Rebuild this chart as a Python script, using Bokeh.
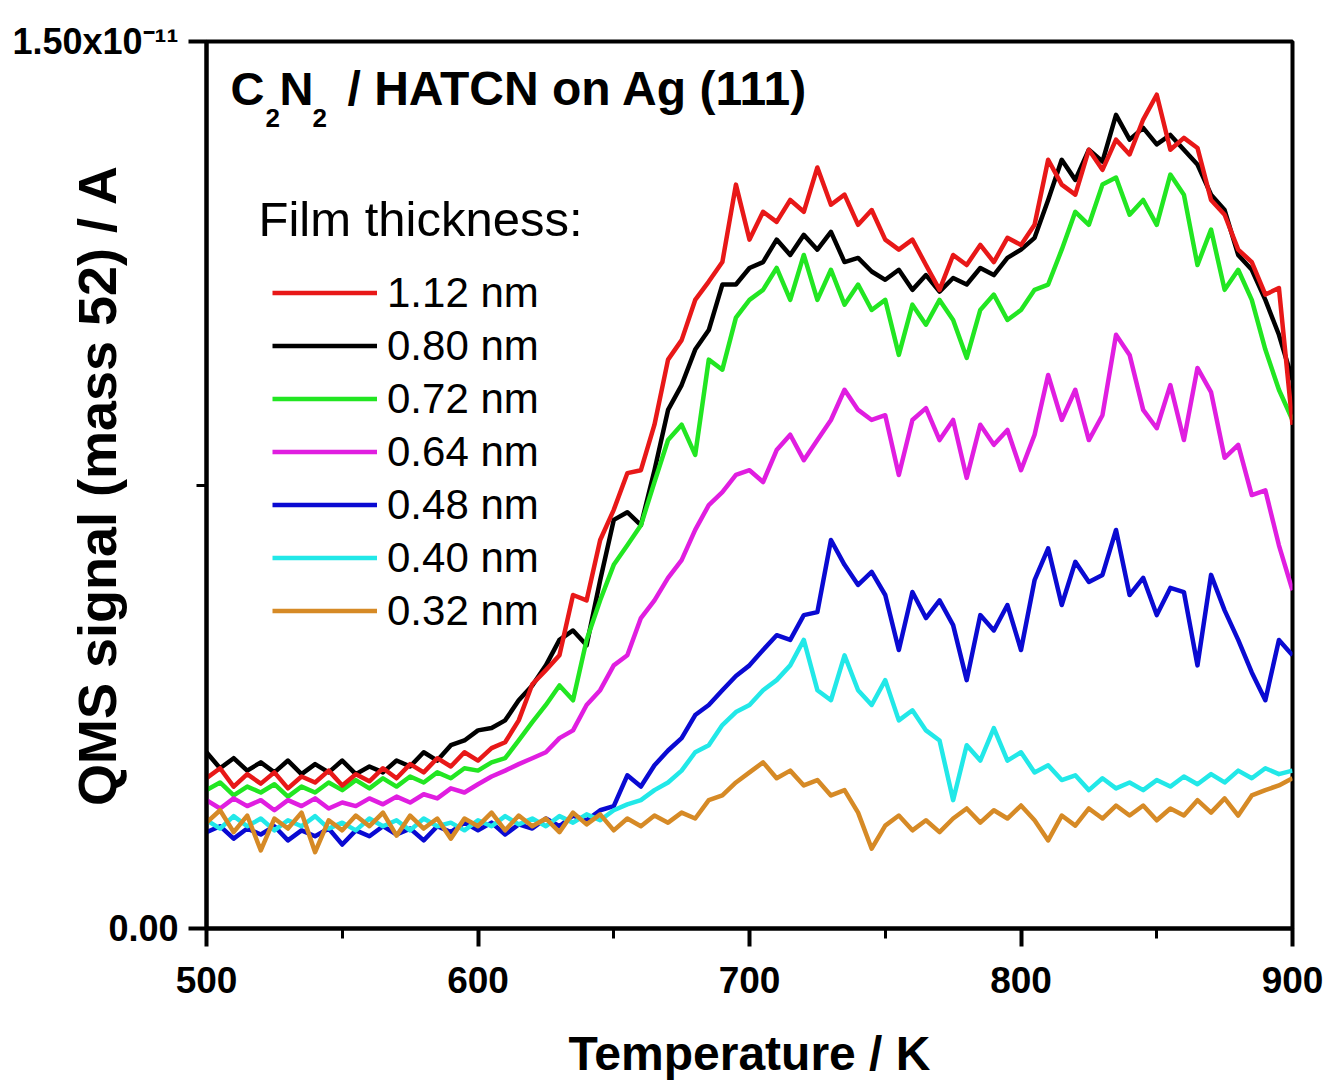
from bokeh.plotting import figure
from bokeh.models import Range1d, FixedTicker, Label, Legend, LegendItem
from bokeh.embed import file_html
from bokeh.resources import INLINE

# Temperature axis (K)
temperature = list(range(500, 901, 5))

# QMS signal (mass 52) in units of 1e-12 A
sig_112 = [2.54, 2.71, 2.40, 2.61, 2.45, 2.64, 2.37, 2.57, 2.47, 2.67, 2.42, 2.61, 2.49, 2.71, 2.54, 2.78, 2.64, 2.88, 2.74, 2.98,
           2.84, 3.05, 3.15, 3.52, 4.13, 4.37, 4.62, 5.64, 5.55, 6.57, 7.08, 7.70, 7.75, 8.52, 9.62, 9.95, 10.63, 10.94, 11.27, 12.58,
           11.65, 12.12, 11.95, 12.32, 12.12, 12.87, 12.24, 12.41, 11.90, 12.15, 11.65, 11.48, 11.65, 11.22, 10.80, 11.39, 11.22, 11.56, 11.27, 11.68,
           11.56, 11.90, 13.00, 12.58, 12.41, 13.17, 12.83, 13.34, 13.09, 13.68, 14.10, 13.17, 13.37, 13.20, 12.32, 12.07, 11.48, 11.27, 10.72, 10.83,
           8.52]
sig_080 = [2.98, 2.71, 2.88, 2.67, 2.81, 2.64, 2.84, 2.61, 2.78, 2.64, 2.84, 2.61, 2.74, 2.64, 2.84, 2.74, 2.98, 2.84, 3.10, 3.18,
           3.35, 3.39, 3.52, 3.86, 4.11, 4.45, 4.88, 5.04, 4.79, 5.89, 6.91, 7.04, 6.82, 7.75, 8.77, 9.19, 9.79, 10.12, 10.89, 10.89,
           11.17, 11.27, 11.65, 11.39, 11.73, 11.48, 11.78, 11.27, 11.34, 11.11, 10.97, 11.14, 10.80, 11.05, 10.77, 11.00, 10.89, 11.17, 11.05, 11.34,
           11.48, 11.68, 12.32, 13.00, 12.66, 13.17, 12.97, 13.76, 13.34, 13.54, 13.26, 13.42, 13.17, 12.92, 12.41, 12.15, 11.39, 11.14, 10.63, 10.04,
           9.28]
sig_072 = [2.34, 2.47, 2.25, 2.40, 2.30, 2.44, 2.23, 2.40, 2.30, 2.47, 2.34, 2.51, 2.37, 2.54, 2.40, 2.57, 2.47, 2.64, 2.54, 2.71,
           2.67, 2.81, 2.88, 3.18, 3.49, 3.78, 4.11, 3.86, 4.88, 5.55, 6.15, 6.48, 6.82, 7.55, 8.26, 8.52, 8.01, 9.62, 9.45, 10.33,
           10.63, 10.80, 11.17, 10.63, 11.39, 10.63, 11.14, 10.55, 10.89, 10.46, 10.63, 9.70, 10.55, 10.21, 10.63, 10.29, 9.65, 10.46, 10.72, 10.29,
           10.46, 10.80, 10.89, 11.48, 12.12, 11.90, 12.58, 12.70, 12.07, 12.32, 11.90, 12.75, 12.41, 11.22, 11.82, 10.80, 11.14, 10.63, 9.79, 9.11,
           8.60]
sig_064 = [2.17, 2.03, 2.20, 2.07, 2.17, 2.00, 2.17, 2.07, 2.20, 2.03, 2.13, 2.07, 2.20, 2.10, 2.23, 2.13, 2.27, 2.20, 2.37, 2.30,
           2.44, 2.57, 2.67, 2.78, 2.88, 2.98, 3.22, 3.35, 3.78, 4.03, 4.45, 4.62, 5.25, 5.55, 5.93, 6.23, 6.74, 7.16, 7.38, 7.67,
           7.75, 7.55, 8.09, 8.35, 7.92, 8.26, 8.60, 9.11, 8.77, 8.60, 8.68, 7.67, 8.60, 8.80, 8.26, 8.60, 7.62, 8.52, 8.18, 8.43,
           7.75, 8.35, 9.36, 8.60, 9.11, 8.26, 8.68, 10.04, 9.70, 8.77, 8.46, 9.19, 8.26, 9.48, 9.07, 7.96, 8.18, 7.33, 7.41, 6.48,
           5.72]
sig_048 = [1.63, 1.73, 1.52, 1.69, 1.59, 1.73, 1.49, 1.66, 1.56, 1.69, 1.42, 1.66, 1.56, 1.73, 1.59, 1.69, 1.49, 1.73, 1.63, 1.79,
           1.66, 1.79, 1.59, 1.76, 1.69, 1.86, 1.73, 1.91, 1.83, 2.00, 2.07, 2.59, 2.40, 2.76, 3.01, 3.22, 3.61, 3.78, 4.03, 4.27,
           4.45, 4.71, 4.96, 4.88, 5.30, 5.35, 6.57, 6.15, 5.81, 6.03, 5.64, 4.71, 5.69, 5.25, 5.55, 5.13, 4.20, 5.30, 5.04, 5.47,
           4.71, 5.89, 6.43, 5.47, 6.20, 5.86, 5.98, 6.74, 5.64, 5.93, 5.30, 5.76, 5.69, 4.45, 5.98, 5.38, 4.88, 4.33, 3.86, 4.88,
           4.62]
sig_040 = [1.83, 1.69, 1.90, 1.73, 1.86, 1.66, 1.83, 1.73, 1.90, 1.69, 1.79, 1.66, 1.86, 1.73, 1.83, 1.66, 1.86, 1.73, 1.79, 1.66,
           1.83, 1.73, 1.90, 1.76, 1.86, 1.73, 1.90, 1.79, 1.93, 1.83, 2.00, 2.10, 2.17, 2.34, 2.47, 2.67, 2.98, 3.10, 3.44, 3.66,
           3.78, 4.03, 4.20, 4.45, 4.88, 4.03, 3.86, 4.62, 4.03, 3.78, 4.20, 3.52, 3.69, 3.35, 3.18, 2.17, 3.10, 2.84, 3.39, 2.84,
           2.98, 2.64, 2.76, 2.51, 2.59, 2.34, 2.54, 2.37, 2.47, 2.34, 2.51, 2.40, 2.57, 2.44, 2.61, 2.47, 2.67, 2.54, 2.71, 2.61,
           2.67]
sig_032 = [1.79, 2.00, 1.63, 1.91, 1.32, 1.86, 1.69, 1.96, 1.29, 1.83, 1.66, 1.91, 1.73, 1.96, 1.57, 1.91, 1.69, 1.86, 1.52, 1.86,
           1.73, 1.96, 1.66, 1.91, 1.73, 1.86, 1.63, 1.96, 1.76, 1.93, 1.66, 1.86, 1.73, 1.91, 1.79, 1.96, 1.86, 2.17, 2.25, 2.47,
           2.64, 2.81, 2.54, 2.67, 2.42, 2.51, 2.25, 2.34, 1.96, 1.35, 1.74, 1.91, 1.66, 1.83, 1.63, 1.86, 2.03, 1.79, 2.00, 1.86,
           2.08, 1.83, 1.49, 1.91, 1.74, 2.03, 1.86, 2.08, 1.91, 2.08, 1.83, 2.03, 1.91, 2.17, 1.96, 2.20, 1.91, 2.25, 2.34, 2.42,
           2.54]

series_labels = ["1.12 nm", "0.80 nm", "0.72 nm", "0.64 nm", "0.48 nm", "0.40 nm", "0.32 nm"]
series_values = [sig_112, sig_080, sig_072, sig_064, sig_048, sig_040, sig_032]
series_colors = ["#e81818", "#000000", "#22e622", "#e01ee0", "#0a0ad2", "#22e8e8", "#d68a26"]

x_ticks = [500, 600, 700, 800, 900]
x_minor = [550, 650, 750, 850]
y_ticks = [0, 15]
y_minor = [7.5]
y_tick_labels = {0: "0.00", 15: "1.50x10\u207b\u00b9\u00b9"}

FONT = "Liberation Sans"

p = figure(width=1326, height=1083, output_backend="svg", toolbar_location=None,
           x_range=Range1d(500, 900), y_range=Range1d(0, 15),
           min_border_left=206, min_border_right=34, min_border_top=41, min_border_bottom=155)
p.grid.visible = False
p.background_fill_color = "white"
p.border_fill_color = "white"
p.outline_line_color = "black"
p.outline_line_width = 4
p.outline_line_alpha = 1

# x axis
xa = p.xaxis[0]
xa.ticker = FixedTicker(ticks=x_ticks, minor_ticks=x_minor)
xa.axis_line_width = 4
xa.major_tick_line_width = 4
xa.minor_tick_line_width = 3
xa.major_tick_out = 18
xa.major_tick_in = 0
xa.minor_tick_out = 10
xa.minor_tick_in = 0
xa.major_label_text_font = FONT
xa.major_label_text_font_style = "bold"
xa.major_label_text_font_size = "37px"
xa.major_label_text_color = "black"
xa.major_label_standoff = 20
xa.axis_label = "Temperature / K"
xa.axis_label_text_font = FONT
xa.axis_label_text_font_style = "bold"
xa.axis_label_text_font_size = "48px"
xa.axis_label_text_color = "black"
xa.axis_label_standoff = 31

# y axis
ya = p.yaxis[0]
ya.ticker = FixedTicker(ticks=y_ticks, minor_ticks=y_minor)
ya.axis_line_width = 4
ya.major_tick_line_width = 4
ya.minor_tick_line_width = 3
ya.major_tick_out = 18
ya.major_tick_in = 0
ya.minor_tick_out = 10
ya.minor_tick_in = 0
ya.major_label_text_font = FONT
ya.major_label_text_font_style = "bold"
ya.major_label_text_font_size = "36px"
ya.major_label_text_color = "black"
ya.major_label_standoff = 10
ya.major_label_overrides = y_tick_labels
ya.axis_label = "QMS signal (mass 52) / A"
ya.axis_label_text_font = FONT
ya.axis_label_text_font_style = "bold"
ya.axis_label_text_font_size = "54px"
ya.axis_label_text_color = "black"
ya.axis_label_standoff = -118

# draw order: red on top
renderers = {}
for idx in [1, 2, 3, 4, 5, 6, 0]:
    r = p.line(temperature, series_values[idx], line_color=series_colors[idx],
               line_width=4.5, line_join="round")
    renderers[idx] = r

legend = Legend(items=[LegendItem(label=series_labels[i], renderers=[renderers[i]])
                       for i in range(len(series_labels))])
legend.location = (66, 291)
legend.padding = 0
legend.margin = 0
legend.spacing = 0
legend.glyph_width = 105
legend.glyph_height = 53
legend.label_height = 53
legend.label_standoff = 10
legend.label_text_font = FONT
legend.label_text_font_size = "42px"
legend.label_text_color = "black"
legend.border_line_alpha = 0
legend.background_fill_alpha = 0
p.add_layout(legend)

# title pieces: C2N2 / HATCN on Ag (111) with subscripts
title_parts = [("C", 24, -47, "47px"), ("2", 59, -76, "26px"), ("N", 73, -47, "47px"),
               ("2", 106, -76, "26px"), ("/ HATCN on Ag (111)", 141, -47, "48px")]
for txt, xo, yo, fs in title_parts:
    p.add_layout(Label(x=500, y=15, x_offset=xo, y_offset=yo, text=txt,
                       text_font=FONT, text_font_style="bold", text_font_size=fs,
                       text_baseline="alphabetic", text_align="left", text_color="black"))

p.add_layout(Label(x=500, y=15, x_offset=52, y_offset=-177,
                   text="Film thickness:",
                   text_font=FONT, text_font_style="normal", text_font_size="49px",
                   text_baseline="alphabetic", text_align="left", text_color="black"))

open("out.html", "w").write(file_html(p, INLINE))
